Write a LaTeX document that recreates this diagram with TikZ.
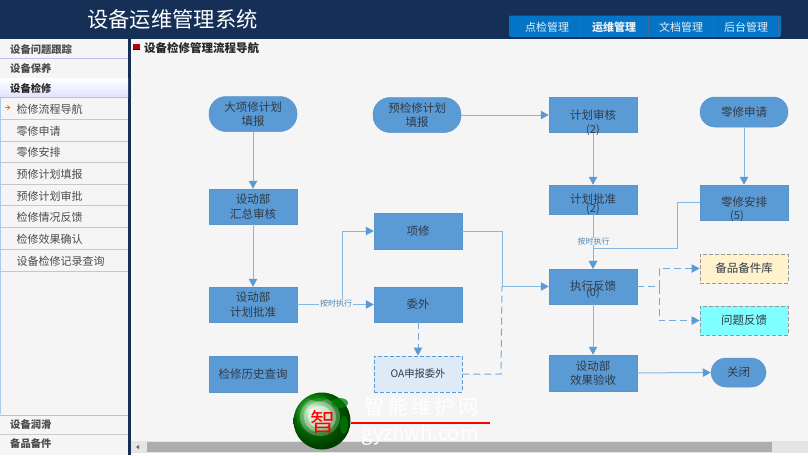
\documentclass[tikz,border=0pt]{standalone}
\usepackage{fontspec}
\setmainfont{Noto Sans CJK SC}
\usetikzlibrary{arrows.meta,calc}
\definecolor{navy}{HTML}{152F57}
\definecolor{tabblue}{HTML}{0474C6}
\definecolor{boxblue}{HTML}{5B9BD5}
\definecolor{edgeblue}{HTML}{5A93C8}
\definecolor{linkblue}{HTML}{86B6E2}
\definecolor{pagebg}{HTML}{F5F5F5}
\definecolor{txt}{HTML}{2F3A45}
\definecolor{sparefill}{HTML}{FFF2CC}
\definecolor{probfill}{HTML}{7FFFFF}
\definecolor{oafill}{HTML}{DEEAF6}
\tikzset{
 x=1pt,y=-1pt,
 flowbox/.style={draw=edgeblue,line width=.5pt,fill=boxblue,minimum width=88pt,minimum height=35pt,inner sep=0pt,align=center,text=txt,font=\fontsize{11.5}{14.5}\selectfont},
 pill/.style={flowbox,rounded corners=15pt},
 dashbox/.style={flowbox,dashed,draw=#1,line width=.9pt,dash pattern=on 4pt off 2pt},
 bare/.style={inner sep=0pt,align=center,text=txt,font=\fontsize{11.5}{14.5}\selectfont},
 link/.style={draw=linkblue,line width=1pt},
 linkarrow/.style={link,-{Triangle[length=8pt,width=8.5pt,color=boxblue,fill=boxblue]}},
 dlink/.style={link,draw=boxblue!85,dash pattern=on 7pt off 4pt},
 dlinkarrow/.style={dlink,-{Triangle[length=8pt,width=8.5pt,color=boxblue,fill=boxblue]}},
 count/.style={text=txt,font=\fontsize{11}{12}\selectfont,inner sep=0pt},
 minilabel/.style={text=boxblue!85!black,font=\fontsize{8}{9}\selectfont,inner sep=0pt},
 sidehead/.style={anchor=west,inner sep=0pt,text=black!70,font=\bfseries\fontsize{10.3}{12}\selectfont},
 sideitem/.style={anchor=west,inner sep=0pt,text=black!70,font=\fontsize{11}{13}\selectfont},
 tabtext/.style={text=white!90!tabblue,inner sep=0pt,font=\fontsize{11}{13}\selectfont},
}
\begin{document}
\begin{tikzpicture}
\useasboundingbox (0,0) rectangle (808,455);
\fill[pagebg] (0,0) rectangle (808,455);
% header
\fill[navy] (0,0) rectangle (808,38.5);
\node[inner sep=0pt,text=white,font=\fontsize{21.3}{23}\selectfont] (title) at (172.5,19) {设备运维管理系统};
\fill[tabblue,rounded corners=2pt] (509,15.5) rectangle (781,37);
\foreach \x in {579.5,648.5,713.5,778}{\draw[edgeblue!60!navy,line width=.6pt] (\x,15.5) -- (\x,37);}
\node[tabtext] (t1) at (547,27) {点检管理};
\node[tabtext,font=\bfseries\fontsize{11}{13}\selectfont] (t2) at (614,27) {运维管理};
\node[tabtext] (t3) at (681,27) {文档管理};
\node[tabtext] (t4) at (746,27) {后台管理};
% sidebar
\fill[white!96!black] (0,39) rectangle (128,455);
\fill[navy] (128,38) rectangle (131,455);
\draw[linkblue!70,line width=.6pt] (0.5,98) -- (0.5,414);
\foreach \y in {58.5,78}{\draw[black!25!blue!25,line width=.7pt] (0,\y) -- (128,\y);}
\shade[top color=white,bottom color=blue!12] (0,78.5) rectangle (128,97.5);
\draw[blue!20!black!25,line width=.7pt] (0,97.5) -- (128,97.5);
\foreach \y in {119,141,162.5,184,205.5,227.5,249,271}{\draw[black!22,line width=.6pt] (1,\y) -- (128,\y);}
\node[sidehead] (s1) at (10,49.5) {设备问题跟踪};
\node[sidehead] (s2) at (10,69) {设备保养};
\node[sidehead,text=black!85] (s3) at (10,88.5) {设备检修};
\draw[orange!85!red,line width=.7pt,-{Straight Barb[length=2.5pt,width=4pt]}] (5,107.5) -- (10.5,107.5);
\node[sideitem] (i1) at (16.5,109.5) {检修流程导航};
\node[sideitem] (i2) at (16.5,131) {零修申请};
\node[sideitem] (i3) at (16.5,152.5) {零修安排};
\node[sideitem] (i4) at (16.5,174) {预修计划填报};
\node[sideitem] (i5) at (16.5,196) {预修计划审批};
\node[sideitem] (i6) at (16.5,217.5) {检修情况反馈};
\node[sideitem] (i7) at (16.5,239) {检修效果确认};
\node[sideitem] (i8) at (16.5,261) {设备检修记录查询};
\draw[blue!20!black!25,line width=.7pt] (0,415) -- (128,415);
\draw[black!20,line width=1pt] (0,434.5) -- (128,434.5);
\node[sidehead] (s4) at (10,425) {设备润滑};
\node[sidehead] (s5) at (10,444) {备品备件};
% heading
\fill[red!75!black] (133,43.5) rectangle (140,50);
\fill[black] (133,48.5) rectangle (140,50);
\node[anchor=west,inner sep=0pt,text=black!85,font=\bfseries\fontsize{11.5}{13}\selectfont] (head) at (144,48) {设备检修管理流程导航};
% flow nodes
\node[pill,rounded corners=17pt] (big) at (253,114) {大项修计划\\填报};
\node[pill,rounded corners=17pt] (pre) at (417,115) {预检修计划\\填报};
\node[flowbox] (rev) at (593,115) {};
\node[pill,minimum height=30pt] (zreq) at (744,112) {零修申请};
\node[flowbox] (sum) at (253,206.5) {设动部\\汇总审核};
\node[flowbox,minimum height=29pt] (appr) at (593,199.5) {};
\node[flowbox] (zarr) at (744,202.5) {};
\node[flowbox,minimum height=36pt] (xm) at (418,231) {项修};
\node[flowbox] (dappr) at (253,304.5) {设动部\\计划批准};
\node[flowbox] (ww) at (418,304.5) {委外};
\node[flowbox] (exec) at (593,286.5) {};
\node[dashbox=black!40,fill=sparefill,minimum height=29pt] (spare) at (744,268.5) {备品备件库};
\node[dashbox=black!40,fill=probfill,minimum height=29pt] (prob) at (744,320.5) {问题反馈};
\node[flowbox,minimum height=36pt] (hist) at (253,374) {检修历史查询};
\node[dashbox=boxblue,fill=oafill,minimum height=36pt,font=\fontsize{10.3}{12}\selectfont] (oa) at (418,374) {OA申报委外};
\node[flowbox,minimum height=36pt] (acc) at (593,373) {设动部\\效果验收};
\node[pill,minimum width=55pt,minimum height=29pt] (close) at (738.5,372.5) {关闭};
% connectors
\coordinate (j1) at (342,304.5);
\coordinate (j2) at (342,231);
\coordinate (r1) at (502,231);
\coordinate (r2) at (502,286.5);
\coordinate (o1) at (501,374);
\coordinate (z1) at (677,202.5);
\coordinate (z2) at (677,248);
\coordinate (z3) at (593,248);
\coordinate (d1) at (659,286.5);
\coordinate (d2) at (659,268.5);
\coordinate (d3) at (659,320.5);
\draw[linkarrow] (big) -- (sum);
\draw[linkarrow] (sum) -- (dappr);
\draw[linkarrow] (pre) -- (rev);
\draw[linkarrow] (rev) -- (appr);
\draw[linkarrow] (appr) -- (exec);
\draw[linkarrow] (zreq) -- (zarr);
\draw[linkarrow] (zarr.west) -- (z1) -- (z2) -- (z3) -- (exec.north);
\draw[linkarrow] (dappr) -- (ww);
\draw[linkarrow] (j1) -- (j2) -- (xm.west);
\draw[linkarrow] (xm.east) -- (r1) -- (r2) -- (exec.west);
\draw[dlinkarrow] (ww) -- (oa);
\draw[dlink] (oa.east) -- (o1) -- (r2);
\draw[dlink] (exec.east) -- (d1);
\draw[dlinkarrow] (d1) -- (d2) -- (spare.west);
\draw[dlinkarrow] (d1) -- (d3) -- (prob.west);
\draw[linkarrow] (exec) -- (acc);
\draw[linkarrow] (acc) -- (close);
% texts over the boxes
\node[minilabel,fill=pagebg,inner xsep=1pt] (l1) at (336,303.5) {按时执行};
\node[minilabel,fill=pagebg,inner xsep=1pt] (l2) at (593.5,241.5) {按时执行};
\node[bare] (trev) at (593,115) {计划审核};
\node[count] (c1) at (593,130) {(2)};
\node[bare] (tappr) at (593,199) {计划批准};
\node[count] (c2) at (593,209) {(2)};
\node[bare] (tzarr) at (744,202) {零修安排};
\node[count] (c5) at (737,216) {(5)};
\node[bare] (texec) at (593,286.5) {执行反馈};
\node[count] (c0) at (593,293.5) {(0)};
% scrollbar
\fill[black!10] (131,439) rectangle (808,455);
\fill[pagebg] (131,439) rectangle (808,441);
\fill[black!32] (147,441.5) rectangle (772,452);
\fill[black!60] (139,445) -- (136,447) -- (139,449) -- cycle;
\fill[white] (131,453) rectangle (808,455);
% watermark
\shade[ball color=green!55!black] (322,421) circle (28.5);
\foreach \o/\r in {.25/20,.35/16,.5/12}{\fill[white,opacity=\o] (320,417) ellipse ({\r} and {\r*.95});}
\fill[green!50!black,opacity=.75] (340,403) ellipse (8 and 5);
\fill[green!50!black,opacity=.6] (318,398) ellipse (9 and 3);
\fill[green!50!black,opacity=.7] (344,425) ellipse (4 and 9);
\node[inner sep=0pt,text=red,font=\fontsize{25}{27}\selectfont] (zhi) at (323,422) {智};
\draw[red,line width=1.8pt] (351,423) -- (490,423);
\node[inner sep=0pt,text=white,font=\fontsize{20}{22}\selectfont] (wm1) at (421.5,407) {智\,能\,维\,护\,网};
\node[inner sep=0pt,text=white,font=\fontsize{20}{22}\selectfont] (wm2) at (420,435) {gyznwh.com};
\end{tikzpicture}
\end{document}
